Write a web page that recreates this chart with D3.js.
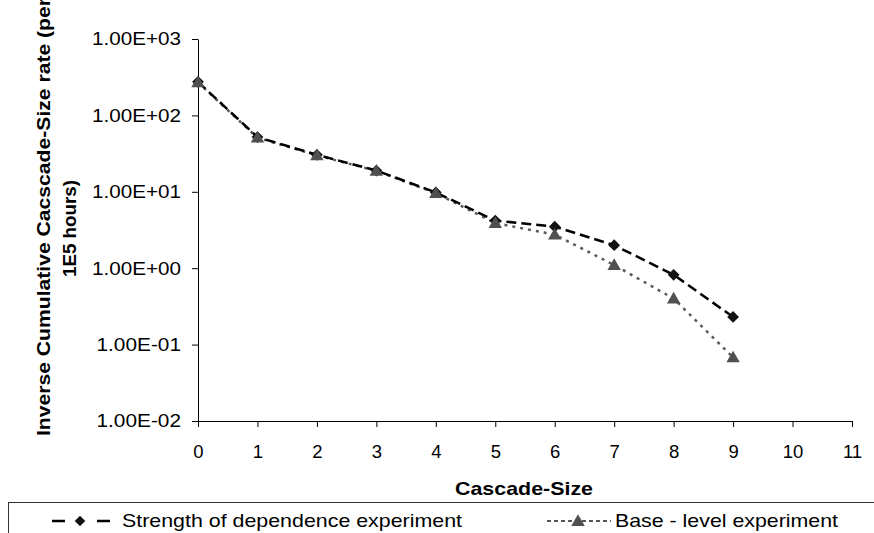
<!DOCTYPE html>
<html><head><meta charset="utf-8">
<script src="https://cdn.jsdelivr.net/npm/d3@7"></script>
<style>body{margin:0;background:#fff;font-family:"Liberation Sans",Arial,sans-serif;}</style>
</head><body>
<svg id="c" width="874" height="533"></svg>
<script>
const cascadeSizes = [0,1,2,3,4,5,6,7,8,9];
const strengthValues = [275, 52, 30.5, 19, 9.8, 4.2, 3.5, 2.0, 0.82, 0.23];
const baseValues = [270, 51, 30, 18.8, 9.6, 3.9, 2.75, 1.1, 0.40, 0.068];
const xTicks = [0,1,2,3,4,5,6,7,8,9,10,11];
const yTicks = [1e-2,1e-1,1,10,100,1000];
const yTickLabels = ["1.00E-02","1.00E-01","1.00E+00","1.00E+01","1.00E+02","1.00E+03"];
const seriesNames = ["Strength of dependence experiment","Base - level experiment"];

const FONT = "Liberation Sans, Arial, sans-serif";
const svg = d3.select("#c").attr("font-family", FONT);
const x = d3.scaleLinear().domain([0,11]).range([198,852]);
const y = d3.scaleLog().domain([1e-2,1e3]).range([421,39]);

const xAxis = d3.axisBottom(x).tickValues(xTicks).tickSize(6).tickSizeOuter(0).tickFormat(d3.format("d"));
const gx = svg.append("g").attr("transform","translate(0,421)").call(xAxis);
gx.attr("font-family", FONT).attr("font-size", 18.5);
gx.selectAll("text").attr("fill","#000").attr("dy","0.71em").attr("y",24);
gx.selectAll("line").attr("stroke","#000");
gx.select(".domain").attr("stroke","#000");

const yAxis = d3.axisLeft(y).tickValues(yTicks).tickSize(6).tickSizeOuter(0).tickFormat((d,i)=>yTickLabels[i]);
const gy = svg.append("g").attr("transform","translate(198,0)").call(yAxis);
gy.attr("font-family", FONT).attr("font-size", 18.5);
gy.selectAll("text").attr("fill","#000").attr("x",-17)
  .attr("textLength",(d,i)=> yTickLabels[i].includes("+") ? 89 : 84.5)
  .attr("lengthAdjust","spacingAndGlyphs");
gy.selectAll("line").attr("stroke","#000");
gy.select(".domain").attr("stroke","#000");

const line = d3.line().x((d,i)=>x(cascadeSizes[i])).y(d=>y(d));
svg.append("path").datum(baseValues).attr("d",line).attr("fill","none").attr("stroke","#5a5a5a").attr("stroke-width",2.5).attr("stroke-dasharray","3,5");
svg.append("path").datum(strengthValues).attr("d",line).attr("fill","none").attr("stroke","#000").attr("stroke-width",2.5).attr("stroke-dasharray","10,5");

const diamond = d3.symbol().type(d3.symbolDiamond2).size(88);
const tri = d3.symbol().type(d3.symbolTriangle).size(78);
svg.append("g").selectAll("path").data(strengthValues).join("path")
  .attr("d",diamond).attr("transform",(d,i)=>`translate(${x(cascadeSizes[i])},${y(d)})`).attr("fill","#111");
svg.append("g").selectAll("path").data(baseValues).join("path")
  .attr("d",tri).attr("transform",(d,i)=>`translate(${x(cascadeSizes[i])},${y(d)+1})`).attr("fill","#505050");

svg.append("text").attr("x",455).attr("y",495).attr("font-size",19).attr("font-weight","bold")
  .attr("textLength",138).attr("lengthAdjust","spacingAndGlyphs").text("Cascade-Size");

const yt = svg.append("g").attr("font-size",18.5).attr("font-weight","bold");
yt.append("text").attr("transform","translate(50,436) rotate(-90)")
  .attr("textLength",438).attr("lengthAdjust","spacingAndGlyphs")
  .text("Inverse Cumulative Cacscade-Size rate (per");
yt.append("text").attr("transform","translate(76,277) rotate(-90)")
  .attr("textLength",97).attr("lengthAdjust","spacingAndGlyphs")
  .text("1E5 hours)");

// legend
svg.append("rect").attr("x",8.5).attr("y",502.5).attr("width",880).attr("height",50).attr("fill","none").attr("stroke","#333").attr("stroke-width",1);
const lg1 = svg.append("g");
lg1.append("line").attr("x1",52).attr("x2",110).attr("y1",521).attr("y2",521).attr("stroke","#000").attr("stroke-width",2.5).attr("stroke-dasharray","13,32");
lg1.append("path").attr("d",d3.symbol().type(d3.symbolDiamond2).size(70)).attr("transform","translate(80,521)").attr("fill","#111");
lg1.append("text").attr("x",122).attr("y",527).attr("font-size",19)
  .attr("textLength",340).attr("lengthAdjust","spacingAndGlyphs").text(seriesNames[0]);
const lg2 = svg.append("g");
lg2.append("line").attr("x1",547).attr("x2",611).attr("y1",521).attr("y2",521).attr("stroke","#555").attr("stroke-width",2).attr("stroke-dasharray","4,3");
lg2.append("path").attr("d",d3.symbol().type(d3.symbolTriangle).size(80)).attr("transform","translate(578,522)").attr("fill","#505050");
lg2.append("text").attr("x",615).attr("y",527).attr("font-size",19)
  .attr("textLength",223).attr("lengthAdjust","spacingAndGlyphs").text(seriesNames[1]);
</script>
</body></html>
